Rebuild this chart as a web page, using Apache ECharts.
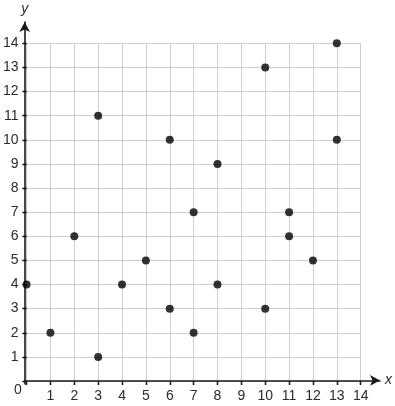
<!DOCTYPE html>
<html><head><meta charset="utf-8">
<script src="https://cdn.jsdelivr.net/npm/echarts@6/dist/echarts.min.js"></script>
<style>html,body{margin:0;padding:0;background:#fff}#c{width:395px;height:406px}</style>
</head><body><div id="c"></div>
<script>
const xValues = [0, 1, 2, 3, 3, 4, 5, 6, 6, 7, 7, 8, 8, 10, 10, 11, 11, 12, 13, 13];
const yValues = [4, 2, 6, 11, 1, 4, 5, 10, 3, 7, 2, 9, 4, 13, 3, 7, 6, 5, 14, 10];
const axisMin = 0, axisMax = 14, tickStep = 1;
const xName = 'x', yName = 'y', originLabel = '0';

const points = xValues.map((x, i) => [x, yValues[i]]);
const font = 'Liberation Sans, Arial, sans-serif';
const lineCol = '#1a1a1a';
const labelStyle = { color: '#2b2b2b', fontSize: 14, fontFamily: font };

function mainAxis(kind) {
  const isX = kind === 'x';
  return [{
    gridIndex: 0, type: 'value', min: axisMin, max: axisMax, interval: tickStep,
    axisLine: { show: false },
    axisTick: { show: true, length: 4, lineStyle: { color: lineCol, width: 1.3 } },
    axisLabel: Object.assign({ margin: isX ? 8 : 8, formatter: v => v === 0 ? '' : String(v) }, labelStyle),
    splitLine: { show: true, lineStyle: { color: '#cfcfcf', width: 1 } }
  }, {
    gridIndex: 0, type: 'value', min: axisMin, max: axisMax, interval: tickStep,
    axisLine: { show: false },
    axisTick: { show: true, inside: true, length: 4, lineStyle: { color: lineCol, width: 1.3 } },
    axisLabel: { show: false }, splitLine: { show: false }
  }];
}

const chart = echarts.init(document.getElementById('c'), null, { renderer: 'canvas' });
chart.setOption({
  animation: false,
  backgroundColor: '#fff',
  grid: [
    { left: 24.7, top: 43.3, width: 336, height: 337.7 },
    { left: 24.7, top: 22, width: 355.3, height: 362 }
  ],
  xAxis: [
    ...mainAxis('x'),
    {
      gridIndex: 1, type: 'value', min: 0, max: 14.8,
      axisLine: { show: true, onZero: true, symbol: ['none', 'arrow'], symbolSize: [8, 10],
        lineStyle: { color: lineCol, width: 1.6 } },
      axisTick: { show: false }, axisLabel: { show: false }, splitLine: { show: false },
      name: xName, nameLocation: 'end', nameGap: 5,
      nameTextStyle: { fontStyle: 'italic', fontSize: 14, color: '#2b2b2b', fontFamily: font }
    }
  ],
  yAxis: [
    ...mainAxis('y'),
    {
      gridIndex: 1, type: 'value', min: -0.15, max: 14.85,
      axisLine: { show: true, onZero: true, symbol: ['none', 'arrow'], symbolSize: [8, 10],
        lineStyle: { color: lineCol, width: 1.6 } },
      axisTick: { show: false }, axisLabel: { show: false }, splitLine: { show: false },
      name: yName, nameLocation: 'end', nameGap: 6,
      nameTextStyle: { fontStyle: 'italic', fontSize: 14, color: '#2b2b2b', fontFamily: font }
    }
  ],
  graphic: [{
    type: 'text', left: 14, top: 383,
    style: { text: originLabel, fill: '#2b2b2b', fontSize: 14, fontFamily: font }
  }],
  series: [{
    type: 'scatter', xAxisIndex: 0, yAxisIndex: 0,
    data: points, symbolSize: 8, itemStyle: { color: '#000' }, clip: false
  }]
});
</script></body></html>
